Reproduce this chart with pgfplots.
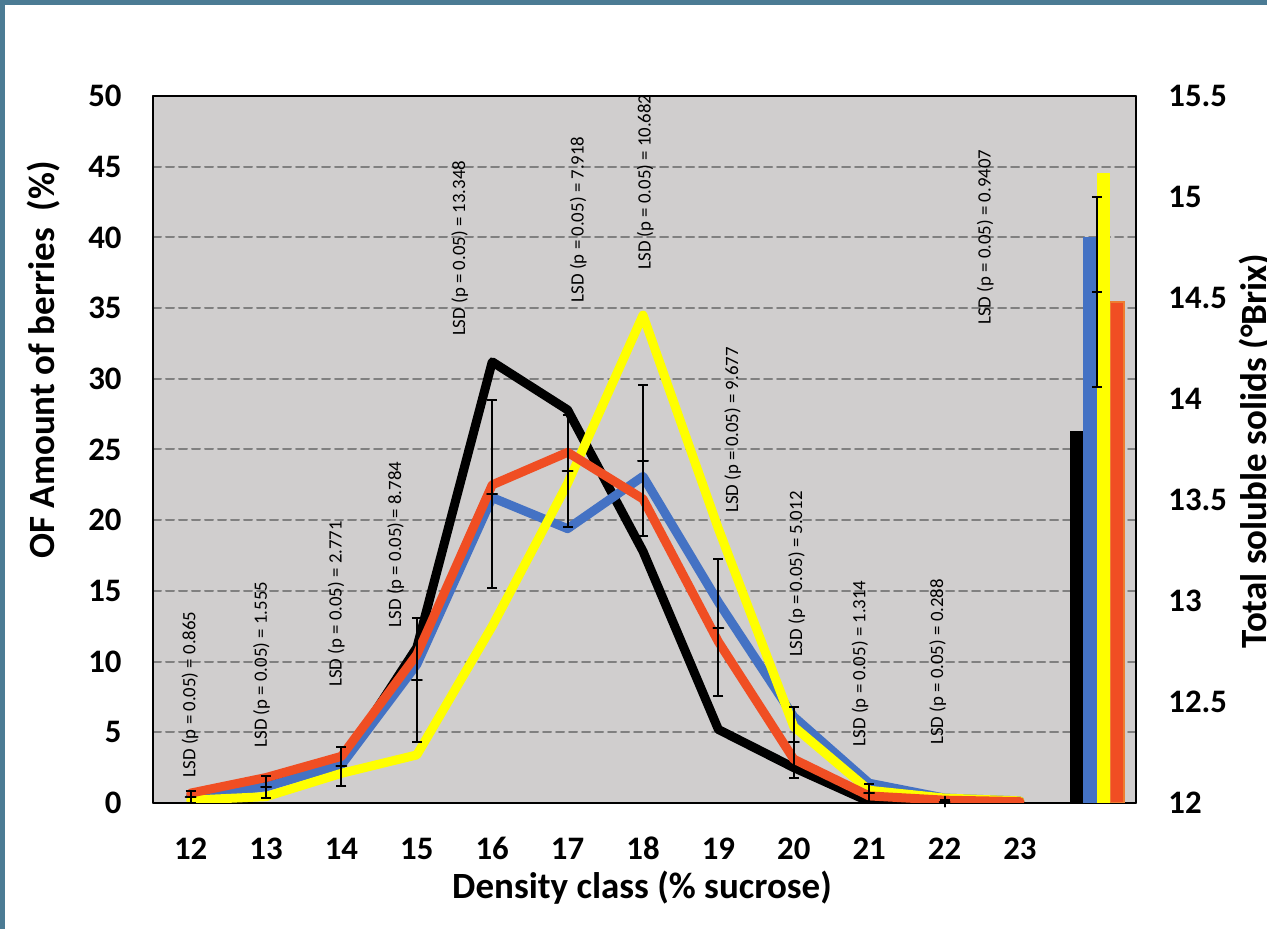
\documentclass[border=0pt]{standalone}
\usepackage{fontspec}
\setmainfont{Carlito}
\usepackage{pgfplots}
\usepackage{pgfplotstable}
\pgfplotsset{compat=1.18}
\definecolor{plotbg}{RGB}{208,206,206}
\definecolor{gridc}{RGB}{128,128,128}
\definecolor{xblue}{RGB}{68,114,196}
\definecolor{xyellow}{RGB}{255,255,0}
\definecolor{xred}{RGB}{240,78,35}
\definecolor{framec}{RGB}{75,123,148}
\newcommand\tickfont{\fontsize{16.4}{18}\selectfont\bfseries}
\newcommand\labfont{\fontsize{18.5}{20}\selectfont\bfseries}
\newcommand\lsdfont{\fontsize{9.4}{10}\selectfont}

\pgfplotstableread{
x black blue yellow red
12 0.5 0.45 0.2 0.7
13 1.4 1.15 0.45 1.8
14 2.8 2.7 2.1 3.3
15 11.0 9.8 3.4 10.5
16 31.2 21.6 12.5 22.5
17 27.8 19.4 22.6 24.8
18 17.8 23.1 34.5 21.5
19 5.2 14.2 19.4 11.4
20 2.5 6.1 5.4 3.1
21 0.1 1.4 0.9 0.5
22 0.05 0.35 0.35 0.2
23 0.0 0.15 0.15 0.1
}\lines

\pgfplotstableread{
x m e
12 0.45 0.4325
13 1.1 0.7775
14 2.6 1.3855
15 8.7 4.392
16 21.85 6.674
17 23.5 3.959
18 24.2 5.341
19 12.4 4.8385
20 4.3 2.506
21 0.7 0.657
22 0.1 0.144
}\errs

\begin{document}
\begin{tikzpicture}
\useasboundingbox (0,0) rectangle (633.5pt,464.5pt);
\clip (0,0) rectangle (633.5pt,464.5pt);
\fill[white] (0,0) rectangle (633.5pt,464.5pt);
\begin{axis}[
  at={(76.5pt,63pt)}, anchor=south west,
  width=491.5pt, height=353.5pt, scale only axis,
  xmin=11.5, xmax=24.54, ymin=0, ymax=50,
  xtick={12,...,23}, ytick={0,5,...,50},
  axis background/.style={fill=plotbg},
  ymajorgrids,
  major grid style={gridc, line width=1pt, dash pattern=on 4pt off 2.5pt},
  major tick length=0pt,
  axis line style={line width=1.2pt},
  /pgf/number format/assume math mode=true,
  yticklabel style={font=\tickfont, anchor=east, inner sep=0pt, xshift=-15.5pt},
  xticklabel style={font=\tickfont, anchor=north, inner sep=0pt, text height=11pt, text depth=0pt, yshift=-17pt},
  line cap=round, line join=round,
]
\addplot[black, line width=4.5pt, mark=none] table[x=x,y=black]{\lines};
\addplot[xblue, line width=4.5pt, mark=none] table[x=x,y=blue]{\lines};
\addplot[xyellow, line width=4.5pt, mark=none] table[x=x,y=yellow]{\lines};
\addplot[xred, line width=4.5pt, mark=none] table[x=x,y=red]{\lines};
\addplot[black, line width=1pt, only marks, mark=+, mark size=2.5pt,
  error bars/.cd, y dir=both, y explicit,
  error bar style={line width=1pt, line cap=butt},
  error mark options={line width=1pt, mark size=2.5pt, rotate=90}]
  table[x=x, y=m, y error=e]{\errs};
\begin{scope}[every node/.style={font=\lsdfont, rotate=90, anchor=west, inner sep=0pt}]
\node at (axis cs:11.99,1.8) {LSD (p = 0.05) = 0.865};
\node at (axis cs:12.94,3.9) {LSD (p = 0.05) = 1.555};
\node at (axis cs:13.93,8.2) {LSD (p = 0.05) = 2.771};
\node at (axis cs:14.72,12.4) {LSD (p = 0.05) = 8.784};
\node at (axis cs:15.57,33.0) {LSD (p = 0.05) = 13.348};
\node at (axis cs:17.14,35.4) {LSD (p = 0.05) = 7.918};
\node at (axis cs:18.03,37.7) {LSD (p = 0.05) = 10.682};
\node at (axis cs:19.19,20.5) {LSD (p = 0.05) = 9.677};
\node at (axis cs:20.04,10.3) {LSD (p = 0.05) = 5.012};
\node at (axis cs:20.88,4.0) {LSD (p = 0.05) = 1.314};
\node at (axis cs:21.91,4.1) {LSD (p = 0.05) = 0.288};
\node at (axis cs:22.54,33.8) {LSD (p = 0.05) = 0.9407};
\end{scope}
\end{axis}
\begin{axis}[
  at={(76.5pt,63pt)}, anchor=south west,
  width=491.5pt, height=353.5pt, scale only axis,
  xmin=11.5, xmax=24.54, ymin=12, ymax=15.5,
  axis x line=none, axis y line*=right,
  ytick={12,12.5,13,13.5,14,14.5,15,15.5},
  major tick length=0pt,
  axis line style={line width=1.2pt},
  /pgf/number format/assume math mode=true,
  yticklabel style={font=\tickfont, anchor=west, inner sep=0pt, xshift=16pt},
]
\addplot[ybar, bar width=0.18, bar shift=0pt, fill=black, draw=none] coordinates {(23.75,13.84)};
\addplot[ybar, bar width=0.18, bar shift=0pt, fill=xblue, draw=none] coordinates {(23.93,14.80)};
\addplot[ybar, bar width=0.18, bar shift=0pt, fill=xyellow, draw=none] coordinates {(24.11,15.12)};
\addplot[ybar, bar width=0.18, bar shift=0pt, fill=xred, draw={rgb,255:red,237;green,125;blue,49}, line width=0.6pt] coordinates {(24.29,14.48)};
\addplot[black, line width=1pt, only marks, mark=-, mark size=2.5pt,
  error bars/.cd, y dir=both, y explicit,
  error bar style={line width=1pt, line cap=butt},
  error mark options={line width=1pt, mark size=2.5pt, rotate=90}]
  coordinates {(24.02,14.53) +- (0,0.47)};
\end{axis}
\node[font=\labfont, anchor=center] at (321pt,20.5pt) {Density class (\% sucrose)};
\node[font=\labfont, rotate=90, anchor=base] at (27pt,284.5pt) {OF Amount of berries~~(\%)};
\node[font=\labfont, rotate=90, anchor=base] at (633pt,239pt) {Total soluble solids (°Brix)};
\fill[framec] (0,462pt) rectangle (633.5pt,464.5pt);
\fill[framec] (0,0) rectangle (2.5pt,464.5pt);
\end{tikzpicture}
\end{document}
